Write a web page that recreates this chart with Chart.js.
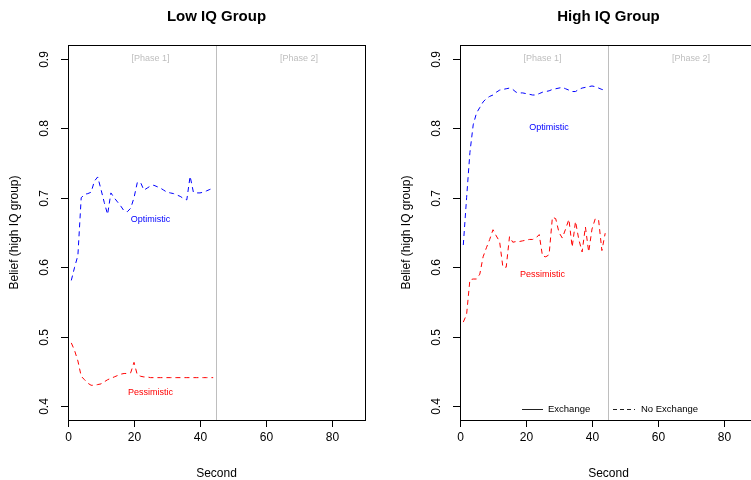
<!DOCTYPE html>
<html lang="en">
<head>
  <meta charset="UTF-8" />
  <title>Belief by IQ Group</title>
  <script src="https://cdn.jsdelivr.net/npm/chart.js"></script>
  <style>
    body {
      margin: 0;
      width: 751px;
      height: 480px;
      overflow: hidden;
      background: #fff;
      position: relative;
    }
    .panel {
      position: absolute;
      top: 0;
      width: 392px;
      height: 480px;
    }
  </style>
</head>
<body>

  <div class="panel" style="left:0"><canvas id="lowChart" width="392" height="480"></canvas></div>
  <div class="panel" style="left:392px"><canvas id="highChart" width="392" height="480"></canvas></div>

  <script>
    const seconds = [1, 2, 3, 4, 5, 6, 7, 8, 9, 10, 11, 12, 13, 14, 15, 16, 17, 18, 19, 20, 21, 22,
      23, 24, 25, 26, 27, 28, 29, 30, 31, 32, 33, 34, 35, 36, 37, 38, 39, 40, 41, 42, 43, 44];

    const lowOptimistic = [0.581, 0.600, 0.617, 0.700, 0.705, 0.706, 0.708, 0.724, 0.730, 0.712, 0.693,
      0.676, 0.707, 0.700, 0.694, 0.688, 0.681, 0.680, 0.685, 0.700, 0.722, 0.722, 0.711, 0.714,
      0.717, 0.718, 0.716, 0.714, 0.711, 0.708, 0.707, 0.706, 0.704, 0.702, 0.699, 0.697, 0.731,
      0.708, 0.707, 0.707, 0.708, 0.710, 0.712, 0.714];
    const lowPessimistic = [0.491, 0.480, 0.465, 0.443, 0.438, 0.433, 0.430, 0.430, 0.431, 0.432, 0.435,
      0.438, 0.440, 0.442, 0.444, 0.446, 0.447, 0.447, 0.448, 0.463, 0.445, 0.443, 0.442, 0.442,
      0.441, 0.441, 0.441, 0.441, 0.441, 0.441, 0.441, 0.441, 0.441, 0.441, 0.441, 0.441, 0.441,
      0.441, 0.441, 0.441, 0.441, 0.441, 0.441, 0.441];

    const highOptimistic = [0.632, 0.700, 0.765, 0.805, 0.822, 0.830, 0.838, 0.843, 0.846, 0.848, 0.852,
      0.855, 0.856, 0.857, 0.858, 0.856, 0.852, 0.851, 0.851, 0.850, 0.849, 0.848, 0.848, 0.850,
      0.852, 0.853, 0.854, 0.856, 0.857, 0.858, 0.859, 0.857, 0.855, 0.853, 0.853, 0.856, 0.858,
      0.859, 0.860, 0.861, 0.860, 0.858, 0.856, 0.855];
    const highPessimistic = [0.521, 0.532, 0.582, 0.583, 0.583, 0.590, 0.615, 0.628, 0.640, 0.654, 0.645,
      0.637, 0.600, 0.600, 0.644, 0.636, 0.637, 0.637, 0.638, 0.639, 0.640, 0.640, 0.642, 0.647,
      0.616, 0.615, 0.618, 0.672, 0.670, 0.650, 0.642, 0.655, 0.669, 0.629, 0.666, 0.640, 0.622,
      0.658, 0.622, 0.655, 0.670, 0.668, 0.624, 0.649];

    const xTicks = [0, 20, 40, 60, 80];
    const yTicks = [0.4, 0.5, 0.6, 0.7, 0.8, 0.9];
    const phaseBreak = 45;

    const phaseLabels = ['[Phase 1]', '[Phase 2]'];
    const phaseLabelX = [25, 70];
    const phaseLabelY = [0.9, 0.9];

    const lowLabelText = ['Optimistic', 'Pessimistic'];
    const lowLabelX = [25, 25];
    const lowLabelY = [0.668, 0.42];

    const highLabelText = ['Optimistic', 'Pessimistic'];
    const highLabelX = [27, 25];
    const highLabelY = [0.801, 0.59];

    const legendLabels = ['Exchange', 'No Exchange'];

    const FONT = '"Liberation Sans", Arial, sans-serif';

    function series(values) {
      return values.map((v, i) => ({ x: seconds[i], y: v }));
    }

    // R-style axes, box, titles and text drawn onto the library's scales
    function rAxesPlugin(title, labels, showLegend) {
      return {
        id: 'rAxes',
        afterDraw(chart) {
          const ctx = chart.ctx;
          const a = chart.chartArea;
          const xs = chart.scales.x;
          const ys = chart.scales.y;
          ctx.save();

          ctx.strokeStyle = '#000';
          ctx.lineWidth = 1;
          ctx.strokeRect(Math.round(a.left) + 0.5, Math.round(a.top) + 0.5,
            Math.round(a.right - a.left), Math.round(a.bottom - a.top));

          ctx.fillStyle = '#000';
          ctx.font = '12px ' + FONT;
          ctx.textAlign = 'center';
          ctx.textBaseline = 'middle';
          xTicks.forEach(v => {
            const px = Math.round(xs.getPixelForValue(v)) + 0.5;
            ctx.beginPath();
            ctx.moveTo(px, a.bottom);
            ctx.lineTo(px, a.bottom + 7);
            ctx.stroke();
            ctx.fillText(String(v), px, a.bottom + 18);
          });

          yTicks.forEach(v => {
            const py = Math.round(ys.getPixelForValue(v)) + 0.5;
            ctx.beginPath();
            ctx.moveTo(a.left - 7, py);
            ctx.lineTo(a.left, py);
            ctx.stroke();
            ctx.save();
            ctx.translate(a.left - 23, py);
            ctx.rotate(-Math.PI / 2);
            ctx.fillText(v.toFixed(1), 0, 0);
            ctx.restore();
          });

          const cx = (a.left + a.right) / 2;
          const cy = (a.top + a.bottom) / 2;
          ctx.fillText('Second', cx, 474);
          ctx.save();
          ctx.translate(15, cy);
          ctx.rotate(-Math.PI / 2);
          ctx.fillText('Belief (high IQ group)', 0, 0);
          ctx.restore();

          ctx.font = 'bold 15px ' + FONT;
          ctx.fillText(title, cx, 17);

          ctx.font = '9px ' + FONT;
          ctx.fillStyle = '#bebebe';
          phaseLabels.forEach((t, i) => {
            ctx.fillText(t, xs.getPixelForValue(phaseLabelX[i]), ys.getPixelForValue(phaseLabelY[i]));
          });

          const colors = ['#0000ff', '#ff0000'];
          labels.text.forEach((t, i) => {
            ctx.fillStyle = colors[i];
            ctx.fillText(t, xs.getPixelForValue(labels.x[i]), ys.getPixelForValue(labels.y[i]));
          });

          if (showLegend) {
            const ly = Math.round(a.bottom - 11) + 0.5;
            const x0 = a.left;
            ctx.strokeStyle = '#222';
            ctx.beginPath();
            ctx.moveTo(x0 + 62, ly);
            ctx.lineTo(x0 + 83, ly);
            ctx.stroke();
            ctx.setLineDash([4, 3]);
            ctx.beginPath();
            ctx.moveTo(x0 + 153, ly);
            ctx.lineTo(x0 + 175, ly);
            ctx.stroke();
            ctx.setLineDash([]);
            ctx.fillStyle = '#000';
            ctx.textAlign = 'left';
            ctx.font = '9.5px ' + FONT;
            ctx.fillText(legendLabels[0], x0 + 88, ly);
            ctx.fillText(legendLabels[1], x0 + 181, ly);
          }
          ctx.restore();
        }
      };
    }

    function makeChart(id, title, optimistic, pessimistic, labels, showLegend) {
      new Chart(document.getElementById(id), {
        type: 'line',
        data: {
          datasets: [
            {
              data: series(optimistic),
              borderColor: '#0000ff',
              borderWidth: 1,
              borderDash: [5, 4],
              pointRadius: 0,
              tension: 0
            },
            {
              data: series(pessimistic),
              borderColor: '#ff0000',
              borderWidth: 1,
              borderDash: [5, 4],
              pointRadius: 0,
              tension: 0
            },
            {
              data: [{ x: phaseBreak, y: 0.38 }, { x: phaseBreak, y: 0.92 }],
              borderColor: '#bebebe',
              borderWidth: 1,
              pointRadius: 0
            }
          ]
        },
        options: {
          responsive: false,
          animation: false,
          devicePixelRatio: 1,
          layout: { padding: { left: 68, right: 27, top: 45, bottom: 60 } },
          plugins: { legend: { display: false }, tooltip: { enabled: false } },
          scales: {
            x: { type: 'linear', min: 0, max: 90, display: false },
            y: { type: 'linear', min: 0.38, max: 0.92, display: false }
          }
        },
        plugins: [rAxesPlugin(title, labels, showLegend)]
      });
    }

    makeChart('lowChart', 'Low IQ Group', lowOptimistic, lowPessimistic,
      { text: lowLabelText, x: lowLabelX, y: lowLabelY }, false);
    makeChart('highChart', 'High IQ Group', highOptimistic, highPessimistic,
      { text: highLabelText, x: highLabelX, y: highLabelY }, true);
  </script>
</body>
</html>
